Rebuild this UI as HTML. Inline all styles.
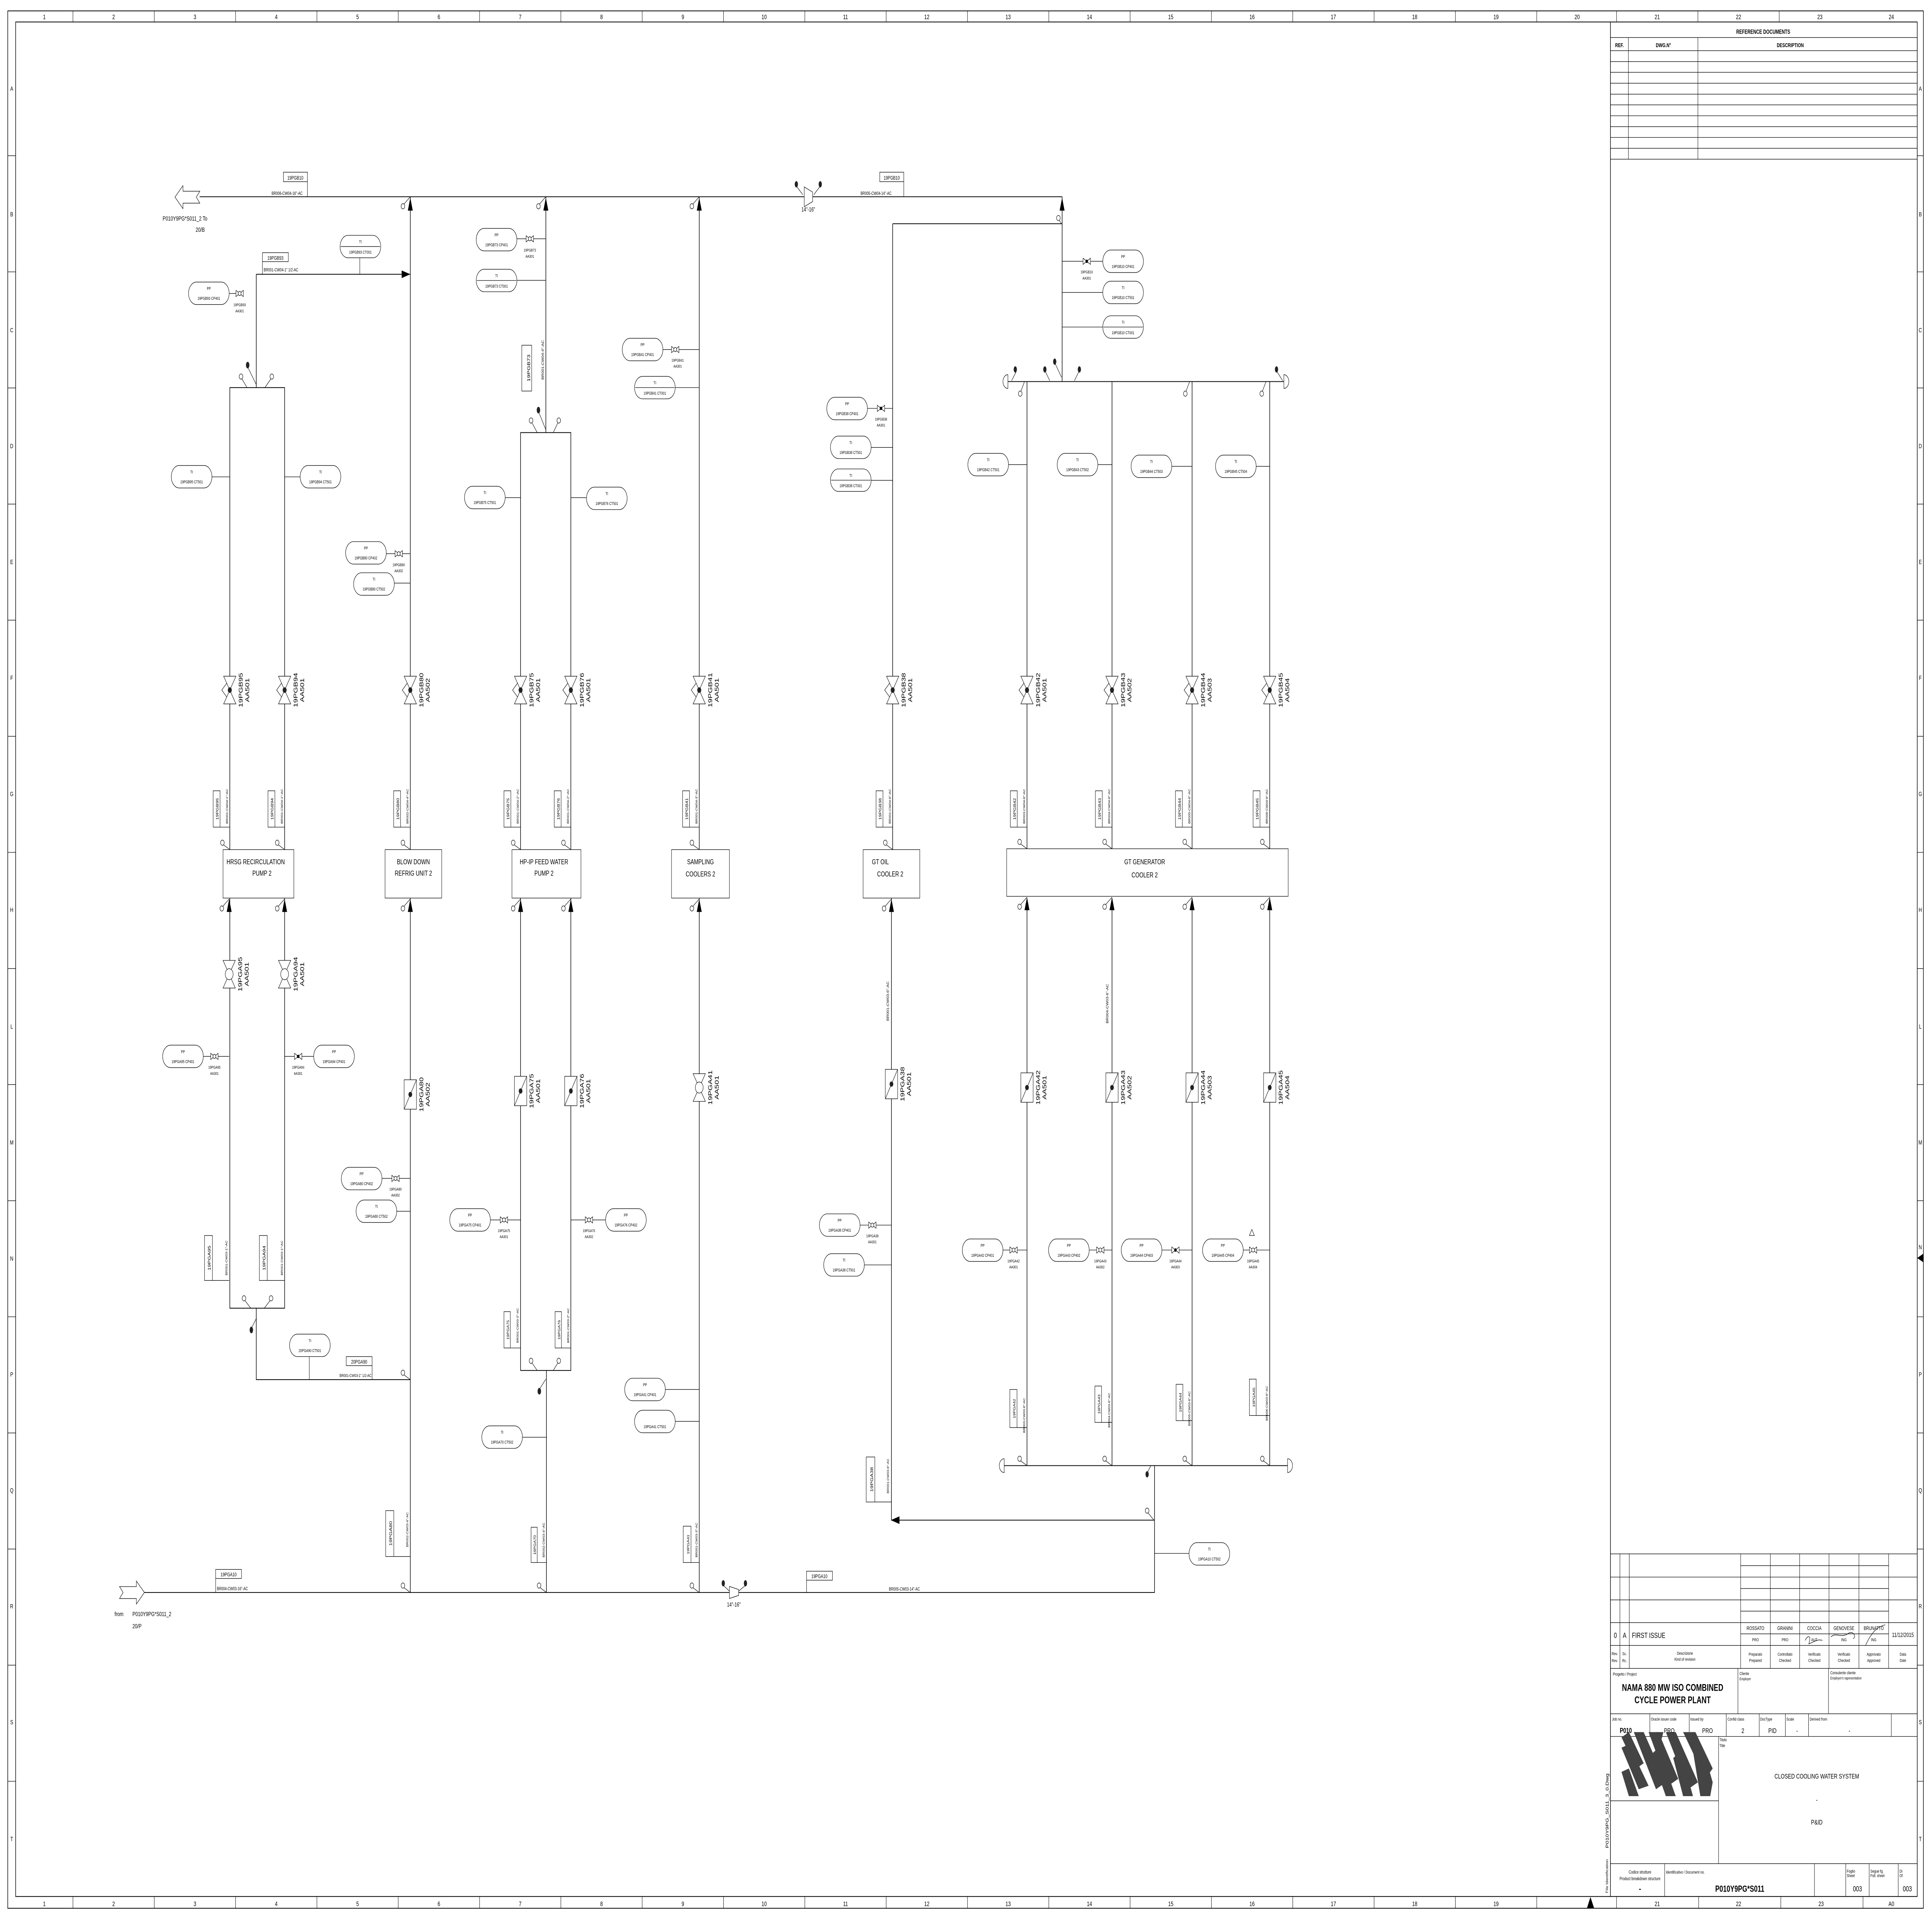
<!DOCTYPE html>
<html><head><meta charset="utf-8"><meta name="viewport" content="width=7021, height=4967"><style>
html,body{margin:0;padding:0;background:#fff;width:100%;height:100%;overflow:hidden}
svg{display:block;position:fixed;left:0;top:0;width:100vw;height:100vh;overflow:hidden}
text{font-family:"Liberation Sans",sans-serif;fill:#000}
.p{stroke:#000;stroke-width:.45;fill:none}
.t{stroke:#000;stroke-width:.3;fill:none}
.w{stroke:#000;stroke-width:.3;fill:#fff}
.m{text-anchor:middle}
</style></head><body>
<svg viewBox="0 0 1568 1109" preserveAspectRatio="none" xmlns="http://www.w3.org/2000/svg">
<defs>
<g id="gv"><path class="w" d="M-5,-8L5,-8L0,0ZM-5,8L5,8L0,0Z"/><path class="t" d="M-2.5,-4L-6.5,0L-2.5,4"/><circle r="1.6" fill="#222"/></g>
<g id="bv"><path class="w" d="M-5,-8L5,-8L0,0ZM-5,8L5,8L0,0Z"/><circle r="3.2" class="w"/></g>
<g id="cv"><rect x="-5" y="-8.5" width="10" height="17" class="w"/><path class="t" d="M-5,8.5L5,-8.5"/><circle r="1.5" fill="#222"/></g>
<g id="sv"><path class="w" d="M-3,-1.8L3,1.8L3,-1.8L-3,1.8Z"/><circle r="1.2" class="w"/></g>
<g id="svd"><path class="w" d="M-3,-1.8L3,1.8L3,-1.8L-3,1.8Z"/><circle r="1" fill="#000"/></g>
<rect id="ov" x="0" y="0" width="33" height="13" rx="6.5" class="w"/>
<g id="ovd"><rect x="0" y="0" width="33" height="13" rx="6.5" class="w"/><line x1="0.5" y1="6.5" x2="32.5" y2="6.5" class="t"/></g>
<path id="au" d="M0,0L2,7.5L-2,7.5Z" fill="#000"/>
<g id="tl"><circle cx="-6" cy="-4" r="1.5" class="w"/><line x1="-5.2" y1="-2.8" x2="0" y2="0" class="t"/></g>
<g id="tb"><circle cx="-6" cy="5.5" r="1.5" class="w"/><line x1="-5.2" y1="4.3" x2="0" y2="0" class="t"/></g>
</defs>

<rect x="6.3" y="6.3" width="1554.7" height="1096.5" class="p" stroke-width=".6"/>
<rect x="12.7" y="12.7" width="1543.3" height="1083.3" class="p" stroke-width=".6"/>
<g class="t">
<path d="M59.2,6.3V12.7M125.2,6.3V12.7M191.2,6.3V12.7M257.2,6.3V12.7M323.2,6.3V12.7M389.2,6.3V12.7M455.2,6.3V12.7M521.2,6.3V12.7M587.2,6.3V12.7M653.2,6.3V12.7M719.2,6.3V12.7M785.2,6.3V12.7M851.2,6.3V12.7M917.2,6.3V12.7M983.2,6.3V12.7M1049.2,6.3V12.7M1115.2,6.3V12.7M1181.2,6.3V12.7M1247.2,6.3V12.7M1312,6.3V12.7M1378,6.3V12.7M1444,6.3V12.7"/>
<path d="M59.2,1096V1102.8M125.2,1096V1102.8M191.2,1096V1102.8M257.2,1096V1102.8M323.2,1096V1102.8M389.2,1096V1102.8M455.2,1096V1102.8M521.2,1096V1102.8M587.2,1096V1102.8M653.2,1096V1102.8M719.2,1096V1102.8M785.2,1096V1102.8M851.2,1096V1102.8M917.2,1096V1102.8M983.2,1096V1102.8M1049.2,1096V1102.8M1115.2,1096V1102.8M1181.2,1096V1102.8M1247.2,1096V1102.8M1312,1096V1102.8M1378.6,1096V1102.8M1445.3,1096V1102.8M1512,1096V1102.8"/>
<path d="M6.3,90H12.7M6.3,157.1H12.7M6.3,224.2H12.7M6.3,291.3H12.7M6.3,358.4H12.7M6.3,425.5H12.7M6.3,492.6H12.7M6.3,559.7H12.7M6.3,626.8H12.7M6.3,693.9H12.7M6.3,761H12.7M6.3,828.1H12.7M6.3,895.2H12.7M6.3,962.3H12.7M6.3,1029.4H12.7"/>
<path d="M1556,90H1561M1556,157.1H1561M1556,224.2H1561M1556,291.3H1561M1556,358.4H1561M1556,425.5H1561M1556,492.6H1561M1556,559.7H1561M1556,626.8H1561M1556,693.9H1561M1556,761H1561M1556,828.1H1561M1556,895.2H1561M1556,962.3H1561M1556,1029.4H1561"/>
</g>
<g font-size="3.8" class="m">
<text x="36" y="11">1</text><text x="92.2" y="11">2</text><text x="158.2" y="11">3</text><text x="224.2" y="11">4</text><text x="290.2" y="11">5</text><text x="356.2" y="11">6</text><text x="422.2" y="11">7</text><text x="488.2" y="11">8</text><text x="554.2" y="11">9</text><text x="620.2" y="11">10</text><text x="686.2" y="11">11</text><text x="752.2" y="11">12</text><text x="818.2" y="11">13</text><text x="884.2" y="11">14</text><text x="950.2" y="11">15</text><text x="1016.2" y="11">16</text><text x="1082.2" y="11">17</text><text x="1148.2" y="11">18</text><text x="1214.2" y="11">19</text><text x="1280" y="11">20</text><text x="1345" y="11">21</text><text x="1411" y="11">22</text><text x="1477" y="11">23</text><text x="1535" y="11">24</text>
<text x="36" y="1101.5">1</text><text x="92.2" y="1101.5">2</text><text x="158.2" y="1101.5">3</text><text x="224.2" y="1101.5">4</text><text x="290.2" y="1101.5">5</text><text x="356.2" y="1101.5">6</text><text x="422.2" y="1101.5">7</text><text x="488.2" y="1101.5">8</text><text x="554.2" y="1101.5">9</text><text x="620.2" y="1101.5">10</text><text x="686.2" y="1101.5">11</text><text x="752.2" y="1101.5">12</text><text x="818.2" y="1101.5">13</text><text x="884.2" y="1101.5">14</text><text x="950.2" y="1101.5">15</text><text x="1016.2" y="1101.5">16</text><text x="1082.2" y="1101.5">17</text><text x="1148.2" y="1101.5">18</text><text x="1214.2" y="1101.5">19</text><text x="1345" y="1101.5">21</text><text x="1411" y="1101.5">22</text><text x="1478" y="1101.5">23</text><text x="1535" y="1101.5">A0</text>
</g>
<g font-size="3.6" class="m">
<text x="9.5" y="52.5">A</text><text x="9.5" y="125">B</text><text x="9.5" y="192">C</text><text x="9.5" y="259">D</text><text x="9.5" y="326">E</text><text x="9.5" y="393">F</text><text x="9.5" y="460">G</text><text x="9.5" y="527">H</text><text x="9.5" y="594.5">L</text><text x="9.5" y="661.5">M</text><text x="9.5" y="728.5">N</text><text x="9.5" y="795.5">P</text><text x="9.5" y="862.5">Q</text><text x="9.5" y="929.5">R</text><text x="9.5" y="996.5">S</text><text x="9.5" y="1064">T</text>
<text x="1558.5" y="52.5">A</text><text x="1558.5" y="125">B</text><text x="1558.5" y="192">C</text><text x="1558.5" y="259">D</text><text x="1558.5" y="326">E</text><text x="1558.5" y="393">F</text><text x="1558.5" y="460">G</text><text x="1558.5" y="527">H</text><text x="1558.5" y="594.5">L</text><text x="1558.5" y="661.5">M</text><text x="1558.5" y="722">N</text><text x="1558.5" y="795.5">P</text><text x="1558.5" y="862.5">Q</text><text x="1558.5" y="929.5">R</text><text x="1558.5" y="996.5">S</text><text x="1558.5" y="1064">T</text>
</g>
<path d="M1556,727L1561,724.5L1561,729.5Z" fill="#000"/>
<path d="M1290.8,1096.3L1288,1102.6L1293.7,1102.6Z" fill="#000"/>

<line x1="1307" y1="12.7" x2="1307" y2="1096" class="p"/>
<g class="t">
<path d="M1307,21.7H1556M1307,29.3H1556M1307,35.6H1556M1307,41.8H1556M1307,48.1H1556M1307,54.4H1556M1307,60.6H1556M1307,66.9H1556M1307,73.2H1556M1307,79.4H1556M1307,85.7H1556M1307,92H1556"/>
<path d="M1321.6,21.7V92M1378,21.7V92"/>
</g>
<text x="1431" y="19.5" font-size="3.4" font-weight="bold" class="m">REFERENCE DOCUMENTS</text>
<text x="1314.3" y="27.2" font-size="3.2" font-weight="bold" class="m">REF.</text>
<text x="1350" y="27.2" font-size="3.2" font-weight="bold" class="m">DWG.N°</text>
<text x="1453" y="27.2" font-size="3.2" font-weight="bold" class="m">DESCRIPTION</text>

<g class="t">
<path d="M1307,898H1556M1307,911.4H1556M1307,924.6H1556M1307,937.7H1556M1307,950.9H1556M1307,964.2H1556M1307,990.4H1556M1307,1003.5H1556M1307,1077H1556"/>
<path d="M1412.7,904.8H1532.8M1412.7,918H1532.8M1412.7,931.1H1532.8M1412.7,944.2H1532.8"/>
<path d="M1314.7,898V964.2M1322.3,898V964.2M1412.7,898V964.2M1436.8,898V964.2M1460.6,898V964.2M1484.4,898V964.2M1508.7,898V964.2M1532.8,898V964.2"/>
<path d="M1410.5,964.2V990.4M1484,964.2V990.4"/>
<path d="M1339,990.4V1003.5M1371,990.4V1003.5M1401,990.4V1003.5M1427.8,990.4V1003.5M1449,990.4V1003.5M1467.8,990.4V1003.5M1535,990.4V1003.5"/>
<path d="M1394.8,1003.5V1077M1307,1040.7H1394.8"/>
<path d="M1351,1077V1096M1472.6,1077V1096M1498,1077V1096M1517,1077V1096M1540.6,1077V1096"/>
</g>
<g fill="#444">
<polygon points="1316,1004 1322,1001 1334,1019 1328,1022"/>
<polygon points="1316,1010 1322,1008 1338,1032 1330,1034"/>
<polygon points="1316,1024 1322,1022 1330,1038 1322,1038"/>
<polygon points="1326,1001 1334,1001 1352,1030 1344,1034"/>
<polygon points="1338,1001 1346,1001 1362,1028 1354,1032"/>
<polygon points="1340,1014 1346,1010 1360,1038 1352,1038"/>
<polygon points="1352,1001 1360,1001 1378,1030 1370,1034"/>
<polygon points="1358,1016 1364,1012 1374,1038 1366,1038"/>
<polygon points="1366,1001 1376,1001 1390,1022 1384,1028"/>
<polygon points="1374,1012 1382,1010 1390,1030 1388,1038 1380,1038"/>
<polygon points="1344,1001 1350,1001 1346,1012"/>
</g>
<g font-size="4.4">
<text x="1311" y="946.6" class="m">0</text><text x="1318.5" y="946.6" class="m">A</text><text x="1324.5" y="946.6">FIRST ISSUE</text>
</g>
<g font-size="3" class="m">
<text x="1424.7" y="942">ROSSATO</text><text x="1448.7" y="942">GRANINI</text><text x="1472.5" y="942">COCCIA</text><text x="1496.5" y="942">GENOVESE</text><text x="1520.7" y="942">BRUNATTO</text>
<text x="1424.7" y="948.5" font-size="2.5">PRO</text><text x="1448.7" y="948.5" font-size="2.5">PRO</text><text x="1472.5" y="948.5" font-size="2.5">AUT</text><text x="1496.5" y="948.5" font-size="2.5">ING</text><text x="1520.7" y="948.5" font-size="2.5">ING</text>
<text x="1544.4" y="946" font-size="3.6">11/12/2015</text>
</g>
<path class="t" d="M1465,948C1468,944 1470,946 1468,950C1472,949 1475,947 1479,948M1486,946C1490,943 1494,947 1500,944C1504,942 1507,946 1504,947M1514,951C1519,943 1524,940 1530,939" stroke-width=".35"/>
<g font-size="2.5" class="m">
<text x="1310.5" y="956.5">Rev.</text><text x="1310.5" y="960.5">Rev.</text><text x="1318.5" y="956.5">Sc.</text><text x="1318.5" y="960.5">Rc.</text>
<text x="1367.5" y="956.3">Descrizione</text><text x="1367.5" y="959.8">Kind of revision</text>
<text x="1424.7" y="956.8">Preparato</text><text x="1424.7" y="960.4">Prepared</text>
<text x="1448.7" y="956.8">Controllato</text><text x="1448.7" y="960.4">Checked</text>
<text x="1472.5" y="956.8">Verificato</text><text x="1472.5" y="960.4">Checked</text>
<text x="1496.5" y="956.8">Verificato</text><text x="1496.5" y="960.4">Checked</text>
<text x="1520.7" y="956.8">Approvato</text><text x="1520.7" y="960.4">Approved</text>
<text x="1544.4" y="956.8">Data</text><text x="1544.4" y="960.4">Date</text>
</g>
<g font-size="2.5">
<text x="1309" y="968.3">Progetto / Project</text>
<text x="1411.8" y="968">Cliente</text><text x="1411.8" y="971" font-size="2.2">Employer</text>
<text x="1485.5" y="967.6">Consulente cliente</text><text x="1485.5" y="970.6" font-size="2.2">Employer's rapresentative</text>
<text x="1308.3" y="994.3">Job no.</text><text x="1339.8" y="994.3">Oracle issuer code</text><text x="1371.8" y="994.3">Issued by</text><text x="1402" y="994.3">Confid class</text><text x="1428.5" y="994.3">DocType</text><text x="1449.8" y="994.3">Scale</text><text x="1468.7" y="994.3">Derived from</text>
<text x="1395.5" y="1006.3">Titolo</text><text x="1395.5" y="1009.6">Title</text>
<text x="1352" y="1082.8">Identificativo / Document no.</text>
<text x="1498.8" y="1082.2">Foglio</text><text x="1498.8" y="1084.8">Sheet</text>
<text x="1518" y="1082.2">Segue fg.</text><text x="1518" y="1084.8">Foll. sheet</text>
<text x="1541.6" y="1082.2">Di</text><text x="1541.6" y="1084.8">Of</text>
</g>
<g class="m">
<text x="1357.5" y="977.2" font-size="5.6" font-weight="bold">NAMA 880 MW ISO COMBINED</text>
<text x="1357.5" y="984.3" font-size="5.6" font-weight="bold">CYCLE POWER PLANT</text>
<text x="1319.5" y="1001.5" font-size="4.2" font-weight="bold">P010</text>
<text x="1354.8" y="1001.5" font-size="4">PRO</text><text x="1385.8" y="1001.5" font-size="4">PRO</text><text x="1414.5" y="1001.5" font-size="4">2</text><text x="1438.5" y="1001.5" font-size="4">PID</text><text x="1458.5" y="1001.5" font-size="4">-</text><text x="1501" y="1001.5" font-size="4">-</text>
<text x="1474.5" y="1027.8" font-size="4">CLOSED COOLING WATER SYSTEM</text>
<text x="1474.5" y="1041.5" font-size="4">-</text>
<text x="1474.5" y="1054.4" font-size="4">P&amp;ID</text>
<text x="1331" y="1082.8" font-size="2.6">Codice strutture</text><text x="1331" y="1086.6" font-size="2.6">Product breakdown structure</text>
<text x="1331" y="1093.2" font-size="5" font-weight="bold">-</text>
<text x="1412" y="1093.3" font-size="5.2" font-weight="bold">P010Y9PG*S011</text>
<text x="1507.5" y="1093" font-size="4.4">003</text><text x="1548" y="1093" font-size="4.4">003</text>
</g>
<text transform="rotate(-90 1305 1094)" x="1305" y="1094" font-size="2.6">File Identification</text>
<text transform="rotate(-90 1305.5 1068)" x="1305.5" y="1068" font-size="3.5">P010Y9PG_S011_3_0.Dwg</text>

<path class="p" d="M162,113.7H862"/>
<polygon class="w" points="142,113.9 148.5,107.3 148.5,110.5 162.2,110.5 159.3,113.9 162.2,117.4 148.5,117.4 148.5,120.6"/>
<text x="132" y="127.5" font-size="3.6">P010Y9PG*S011_2 To</text>
<text x="162.5" y="134" font-size="3.6" class="m">20/B</text>
<rect x="230" y="99.5" width="19.5" height="5.5" class="w"/><path class="t" d="M249.5,105V113.7"/>
<text x="239.7" y="103.8" font-size="3" class="m">19PGB10</text>
<text x="233" y="112.6" font-size="2.6" class="m">BR006-CW04-16"-AC</text>
<rect x="714" y="99.5" width="19.5" height="5.5" class="w"/><path class="t" d="M733.5,105V113.7"/>
<text x="723.7" y="103.8" font-size="3" class="m">19PGB10</text>
<text x="711" y="112.6" font-size="2.6" class="m">BR005-CW04-14"-AC</text>
<polygon class="w" points="652.7,108 659.5,111 659.5,116.5 652.7,119.5"/>
<ellipse cx="646.3" cy="106.5" rx="1.3" ry="1.8" fill="#222"/><ellipse cx="665.7" cy="106.5" rx="1.3" ry="1.8" fill="#222"/>
<path class="t" d="M646.8,108L651.5,112.5M665.2,108L660.5,112.5"/>
<text x="656" y="122.3" font-size="3.4" class="m">14"-16"</text>

<path class="p" d="M117,920.3H937V847"/>
<polygon class="w" points="117.2,920.3 110.7,913.7 110.7,916.9 97,916.9 99.9,920.3 97,923.8 110.7,923.8 110.7,927"/>
<text x="93" y="934" font-size="3.6">from</text><text x="107.5" y="934" font-size="3.6">P010Y9PG*S011_2</text>
<text x="107.5" y="941" font-size="3.6">20/P</text>
<rect x="175" y="907" width="21" height="5.2" class="w"/><path class="t" d="M175,912.2V920.3"/>
<text x="185.5" y="911" font-size="3" class="m">19PGA10</text>
<text x="176" y="919" font-size="2.6">BR004-CW03-16"-AC</text>
<rect x="654.6" y="908" width="21" height="5.2" class="w"/><path class="t" d="M654.6,913.2V920.3"/>
<text x="665" y="912" font-size="3" class="m">19PGA10</text>
<text x="734" y="919.2" font-size="2.6" class="m">BR005-CW03-14"-AC</text>
<polygon class="w" points="592,916.8 599.5,918.6 599.5,922 592,923.8"/>
<ellipse cx="587" cy="915" rx="1.3" ry="1.8" fill="#222"/><ellipse cx="605" cy="915" rx="1.3" ry="1.8" fill="#222"/>
<path class="t" d="M587.5,916.5L592,919.5M604.5,916.5L599.5,919.5"/>
<text x="595.6" y="928.5" font-size="3.4" class="m">14"-16"</text>

<rect x="186.5" y="224" width="44.5" height="532" class="p"/>
<path class="p" d="M208,158.5V224M208,756V797.3H333"/>
<path class="p" d="M208,158.5H333"/><path d="M333,158.5L326,156.3L326,160.7Z" fill="#000"/>
<rect x="213" y="146" width="21" height="5.2" class="w"/><path class="t" d="M213,151.2V158.5"/>
<text x="223.5" y="150.2" font-size="3" class="m">19PGB93</text>
<text x="214" y="156.8" font-size="2.6">BR001-CW04-1" 1/2-AC</text>
<ellipse cx="201" cy="211" rx="1.4" ry="1.9" fill="#222"/><path class="t" d="M201.5,212.8L207.8,222"/>
<circle cx="195.6" cy="217.6" r="1.5" class="w"/><path class="t" d="M196.4,219L200.5,224"/>
<circle cx="220.6" cy="217.6" r="1.5" class="w"/><path class="t" d="M219.8,219L215,224"/>
<circle cx="198" cy="750.3" r="1.5" class="w"/><path class="t" d="M198.8,751.6L203.5,756"/>
<circle cx="220" cy="750.3" r="1.5" class="w"/><path class="t" d="M219.2,751.6L214.5,756"/>
<ellipse cx="204" cy="768.6" rx="1.4" ry="1.9" fill="#222"/><path class="t" d="M204.6,766.8L208,762"/>
<rect x="181" y="491" width="57.5" height="28" class="w"/>
<text x="207.5" y="499.5" font-size="4.2" class="m">HRSG RECIRCULATION</text>
<text x="212.6" y="506" font-size="4.2" class="m">PUMP 2</text>

<path class="p" d="M333,113.7V491M333,519V920.3"/>
<rect x="312.5" y="491" width="46" height="28" class="w"/>
<text x="335.5" y="499.5" font-size="4.2" class="m">BLOW DOWN</text>
<text x="335.5" y="506" font-size="4.2" class="m">REFRIG UNIT 2</text>

<path class="p" d="M443,113.7V250M443.5,792V920.3"/>
<rect x="422.5" y="250" width="40.8" height="542" class="p"/>
<rect x="415.5" y="491" width="56" height="28" class="w"/>
<text x="441.5" y="499.5" font-size="4.2" class="m">HP-IP FEED WATER</text>
<text x="441.5" y="506" font-size="4.2" class="m">PUMP 2</text>
<ellipse cx="437" cy="237" rx="1.4" ry="1.9" fill="#222"/><path class="t" d="M437.6,238.8L442.8,248"/>
<circle cx="431" cy="243" r="1.5" class="w"/><path class="t" d="M431.8,244.4L436,250"/>
<circle cx="453.5" cy="243" r="1.5" class="w"/><path class="t" d="M452.7,244.4L449,250"/>
<circle cx="431" cy="786.4" r="1.5" class="w"/><path class="t" d="M431.8,787.7L436,792"/>
<circle cx="453.5" cy="786.4" r="1.5" class="w"/><path class="t" d="M452.7,787.7L449,792"/>
<ellipse cx="437.7" cy="804" rx="1.4" ry="1.9" fill="#222"/><path class="t" d="M438.3,802.3L443,797"/>
<rect x="423.5" y="199.5" width="8" height="26.5" class="w"/>
<text transform="rotate(-90 430.3 212.7)" x="430.3" y="212.7" font-size="3.6" class="m">19PGB73</text>
<text transform="rotate(-90 441.4 208)" x="441.4" y="208" font-size="2.5" class="m">BR001-CW04-4"-AC</text>

<path class="p" d="M567.5,113.7V491M567.5,519V920.3"/>
<rect x="545" y="491" width="47" height="28" class="w"/>
<text x="568.5" y="499.5" font-size="4.2" class="m">SAMPLING</text>
<text x="568.5" y="506.5" font-size="4.2" class="m">COOLERS 2</text>

<path class="p" d="M724.5,129.3H862M724.5,129.3V491M723.5,519V878.5H937"/>
<path d="M723,878.5L730,876.3L730,880.7Z" fill="#000"/>
<rect x="700.5" y="491" width="46" height="28" class="w"/>
<text x="714.5" y="499.5" font-size="4.2" class="m">GT OIL</text>
<text x="722.5" y="506.5" font-size="4.2" class="m">COOLER 2</text>
<text transform="rotate(-90 721.5 578.5)" x="721.5" y="578.5" font-size="2.5" class="m">BR001-CW03-6"-AC</text>

<path class="p" d="M862,113.7V220.5M818,220.5H1042M833.5,220.5V491M902.5,220.5V491M967.5,220.5V491M1030.5,220.5V491"/>
<path class="p" d="M833.5,519V847M902.5,519V847M967.5,519V847M1030.5,519V847M815,847H1045"/>
<path class="t" d="M818,216.5A4,4 0 0 0 818,224.5ZM1042,216.5A4,4 0 0 1 1042,224.5ZM815,843A4,4 0 0 0 815,851ZM1045,843A4,4 0 0 1 1045,851Z"/>
<rect x="817" y="490.5" width="228.5" height="27.5" class="w"/>
<text x="929" y="499.5" font-size="4.2" class="m">GT GENERATOR</text>
<text x="929" y="507" font-size="4.2" class="m">COOLER 2</text>
<ellipse cx="824" cy="213.5" rx="1.3" ry="1.8" fill="#222"/><path class="t" d="M824.6,215L821,220"/>
<ellipse cx="848" cy="213.5" rx="1.3" ry="1.8" fill="#222"/><path class="t" d="M848.6,215L852,220"/>
<ellipse cx="856" cy="209" rx="1.3" ry="1.8" fill="#222"/><path class="t" d="M856.6,210.5L861.5,218"/>
<ellipse cx="876" cy="213.5" rx="1.3" ry="1.8" fill="#222"/><path class="t" d="M875.4,215L872,220"/>
<ellipse cx="1036" cy="213.5" rx="1.3" ry="1.8" fill="#222"/><path class="t" d="M1036.6,215L1041,220"/>
<circle cx="828" cy="227.5" r="1.5" class="w"/><path class="t" d="M828.6,226L831.5,220.5"/>
<circle cx="962" cy="227.5" r="1.5" class="w"/><path class="t" d="M962.6,226L965.5,220.5"/>
<circle cx="1024" cy="227.5" r="1.5" class="w"/><path class="t" d="M1024.6,226L1027.5,220.5"/>
<ellipse cx="931" cy="852" rx="1.3" ry="1.8" fill="#222"/><path class="t" d="M931.5,850.5L934,847"/>
<circle cx="931" cy="873" r="1.5" class="w"/><path class="t" d="M931.8,874.3L936.5,878.5"/>
<text transform="rotate(-90 899.5 580)" x="899.5" y="580" font-size="2.5" class="m">BR004-CW03-6"-AC</text>
<path d="M1016,710.5L1014,714L1018,714Z" class="t"/>

<use href="#au" x="333" y="114.2"/><use href="#au" x="443" y="114.2"/><use href="#au" x="567.5" y="114.2"/><use href="#au" x="862" y="114.2"/>
<use href="#tb" x="333" y="113.7"/><use href="#tb" x="443" y="113.7"/><use href="#tb" x="567.5" y="113.7"/>
<circle cx="859" cy="126" r="1.5" class="w"/><path class="t" d="M859.7,127.3L861.5,129.3"/>
<use href="#tl" x="333" y="920.3"/><use href="#tl" x="443.5" y="920.3"/><use href="#tl" x="567.5" y="920.3"/><use href="#tl" x="333" y="797.3"/>
<use href="#tl" x="833.5" y="847"/><use href="#tl" x="902.5" y="847"/><use href="#tl" x="967.5" y="847"/><use href="#tl" x="1030.5" y="847"/>

<use href="#tl" x="186.5" y="491"/><use href="#tl" x="231" y="491"/><use href="#tl" x="333" y="491"/><use href="#tl" x="422.5" y="491"/><use href="#tl" x="463.3" y="491"/><use href="#tl" x="567.5" y="491"/><use href="#tl" x="724.5" y="491"/><use href="#tl" x="833.5" y="490.5"/><use href="#tl" x="902.5" y="490.5"/><use href="#tl" x="967.5" y="490.5"/><use href="#tl" x="1030.5" y="490.5"/>
<g>
<use href="#au" x="186" y="519.5"/><use href="#tb" x="186" y="519.5"/>
<use href="#au" x="231" y="519.5"/><use href="#tb" x="231" y="519.5"/>
<use href="#au" x="333" y="519.5"/><use href="#tb" x="333" y="519.5"/>
<use href="#au" x="422.5" y="519.5"/><use href="#tb" x="422.5" y="519.5"/>
<use href="#au" x="463.3" y="519.5"/><use href="#tb" x="463.3" y="519.5"/>
<use href="#au" x="567.5" y="519.5"/><use href="#tb" x="567.5" y="519.5"/>
<use href="#au" x="723.5" y="519.5"/><use href="#tb" x="723.5" y="519.5"/>
<use href="#au" x="833.5" y="518.5"/><use href="#tb" x="833.5" y="518.5"/>
<use href="#au" x="902.5" y="518.5"/><use href="#tb" x="902.5" y="518.5"/>
<use href="#au" x="967.5" y="518.5"/><use href="#tb" x="967.5" y="518.5"/>
<use href="#au" x="1030.5" y="518.5"/><use href="#tb" x="1030.5" y="518.5"/>
</g>

<use href="#gv" x="186.5" y="398.8"/><use href="#gv" x="231" y="398.8"/><use href="#gv" x="333" y="398.8"/><use href="#gv" x="422.5" y="398.8"/><use href="#gv" x="463.3" y="398.8"/><use href="#gv" x="567.5" y="398.8"/><use href="#gv" x="724.5" y="398.8"/><use href="#gv" x="833.5" y="398.8"/><use href="#gv" x="902.5" y="398.8"/><use href="#gv" x="967.5" y="398.8"/><use href="#gv" x="1030.5" y="398.8"/>
<g font-size="4.6" class="m">
<text transform="rotate(-90 197 398.8)" x="197" y="398.8">19PGB95</text><text transform="rotate(-90 202.3 398.8)" x="202.3" y="398.8">AA501</text>
<text transform="rotate(-90 241.5 398.8)" x="241.5" y="398.8">19PGB94</text><text transform="rotate(-90 246.8 398.8)" x="246.8" y="398.8">AA501</text>
<text transform="rotate(-90 343.5 398.8)" x="343.5" y="398.8">19PGB80</text><text transform="rotate(-90 348.8 398.8)" x="348.8" y="398.8">AA502</text>
<text transform="rotate(-90 433 398.8)" x="433" y="398.8">19PGB75</text><text transform="rotate(-90 438.3 398.8)" x="438.3" y="398.8">AA501</text>
<text transform="rotate(-90 473.8 398.8)" x="473.8" y="398.8">19PGB76</text><text transform="rotate(-90 479.1 398.8)" x="479.1" y="398.8">AA501</text>
<text transform="rotate(-90 578 398.8)" x="578" y="398.8">19PGB41</text><text transform="rotate(-90 583.3 398.8)" x="583.3" y="398.8">AA501</text>
<text transform="rotate(-90 735 398.8)" x="735" y="398.8">19PGB38</text><text transform="rotate(-90 740.3 398.8)" x="740.3" y="398.8">AA501</text>
<text transform="rotate(-90 844 398.8)" x="844" y="398.8">19PGB42</text><text transform="rotate(-90 849.3 398.8)" x="849.3" y="398.8">AA501</text>
<text transform="rotate(-90 913 398.8)" x="913" y="398.8">19PGB43</text><text transform="rotate(-90 918.3 398.8)" x="918.3" y="398.8">AA502</text>
<text transform="rotate(-90 978 398.8)" x="978" y="398.8">19PGB44</text><text transform="rotate(-90 983.3 398.8)" x="983.3" y="398.8">AA503</text>
<text transform="rotate(-90 1041 398.8)" x="1041" y="398.8">19PGB45</text><text transform="rotate(-90 1046.3 398.8)" x="1046.3" y="398.8">AA504</text>
</g>

<use href="#bv" x="186" y="563"/><use href="#bv" x="231" y="563"/>
<use href="#cv" x="333" y="632.5"/><use href="#cv" x="422.5" y="630.5"/><use href="#cv" x="463.3" y="630.5"/>
<use href="#bv" x="567.5" y="628.5"/>
<use href="#cv" x="723.5" y="626.5"/><use href="#cv" x="833.5" y="628.5"/><use href="#cv" x="902.5" y="628.5"/><use href="#cv" x="967.5" y="628.5"/><use href="#cv" x="1030.5" y="628.5"/>
<g font-size="4.6" class="m">
<text transform="rotate(-90 196.5 563)" x="196.5" y="563">19PGA95</text><text transform="rotate(-90 201.8 563)" x="201.8" y="563">AA501</text>
<text transform="rotate(-90 241.5 563)" x="241.5" y="563">19PGA94</text><text transform="rotate(-90 246.8 563)" x="246.8" y="563">AA501</text>
<text transform="rotate(-90 343.5 632.5)" x="343.5" y="632.5">19PGA80</text><text transform="rotate(-90 348.8 632.5)" x="348.8" y="632.5">AA502</text>
<text transform="rotate(-90 433 630.5)" x="433" y="630.5">19PGA75</text><text transform="rotate(-90 438.3 630.5)" x="438.3" y="630.5">AA501</text>
<text transform="rotate(-90 473.8 630.5)" x="473.8" y="630.5">19PGA76</text><text transform="rotate(-90 479.1 630.5)" x="479.1" y="630.5">AA501</text>
<text transform="rotate(-90 578 628.5)" x="578" y="628.5">19PGA41</text><text transform="rotate(-90 583.3 628.5)" x="583.3" y="628.5">AA501</text>
<text transform="rotate(-90 734 626.5)" x="734" y="626.5">19PGA38</text><text transform="rotate(-90 739.3 626.5)" x="739.3" y="626.5">AA501</text>
<text transform="rotate(-90 844 628.5)" x="844" y="628.5">19PGA42</text><text transform="rotate(-90 849.3 628.5)" x="849.3" y="628.5">AA501</text>
<text transform="rotate(-90 913 628.5)" x="913" y="628.5">19PGA43</text><text transform="rotate(-90 918.3 628.5)" x="918.3" y="628.5">AA502</text>
<text transform="rotate(-90 978 628.5)" x="978" y="628.5">19PGA44</text><text transform="rotate(-90 983.3 628.5)" x="983.3" y="628.5">AA503</text>
<text transform="rotate(-90 1041 628.5)" x="1041" y="628.5">19PGA45</text><text transform="rotate(-90 1046.3 628.5)" x="1046.3" y="628.5">AA504</text>
</g>

<g>
<rect x="173" y="457" width="5.6" height="21" class="w"/><path class="t" d="M178.6,478H186.5"/>
<rect x="217.5" y="457" width="5.6" height="21" class="w"/><path class="t" d="M223.1,478H231"/>
<rect x="319.5" y="457" width="5.6" height="21" class="w"/><path class="t" d="M325.1,478H333"/>
<rect x="409" y="457" width="5.6" height="21" class="w"/><path class="t" d="M414.6,478H422.5"/>
<rect x="449.8" y="457" width="5.6" height="21" class="w"/><path class="t" d="M455.4,478H463.3"/>
<rect x="554" y="457" width="5.6" height="21" class="w"/><path class="t" d="M559.6,478H567.5"/>
<rect x="711" y="457" width="5.6" height="21" class="w"/><path class="t" d="M716.6,478H724.5"/>
<rect x="820" y="457" width="5.6" height="21" class="w"/><path class="t" d="M825.6,478H833.5"/>
<rect x="889" y="457" width="5.6" height="21" class="w"/><path class="t" d="M894.6,478H902.5"/>
<rect x="954" y="457" width="5.6" height="21" class="w"/><path class="t" d="M959.6,478H967.5"/>
<rect x="1017" y="457" width="5.6" height="21" class="w"/><path class="t" d="M1022.6,478H1030.5"/>
</g>
<g font-size="2.9" class="m">
<text transform="rotate(-90 177.4 467.5)" x="177.4" y="467.5">19PGB95</text>
<text transform="rotate(-90 221.9 467.5)" x="221.9" y="467.5">19PGB94</text>
<text transform="rotate(-90 323.9 467.5)" x="323.9" y="467.5">19PGB80</text>
<text transform="rotate(-90 413.4 467.5)" x="413.4" y="467.5">19PGB75</text>
<text transform="rotate(-90 454.2 467.5)" x="454.2" y="467.5">19PGB76</text>
<text transform="rotate(-90 558.4 467.5)" x="558.4" y="467.5">19PGB41</text>
<text transform="rotate(-90 715.4 467.5)" x="715.4" y="467.5">19PGB38</text>
<text transform="rotate(-90 824.4 467.5)" x="824.4" y="467.5">19PGB42</text>
<text transform="rotate(-90 893.4 467.5)" x="893.4" y="467.5">19PGB43</text>
<text transform="rotate(-90 958.4 467.5)" x="958.4" y="467.5">19PGB44</text>
<text transform="rotate(-90 1021.4 467.5)" x="1021.4" y="467.5">19PGB45</text>
</g>
<g font-size="2.2">
<text transform="rotate(-90 185 476)" x="185" y="476">BR001-CW04-1"-AC</text>
<text transform="rotate(-90 229.5 476)" x="229.5" y="476">BR001-CW04-1"-AC</text>
<text transform="rotate(-90 331.5 476)" x="331.5" y="476">BR002-CW04-4"-AC</text>
<text transform="rotate(-90 421 476)" x="421" y="476">BR001-CW04-2"-AC</text>
<text transform="rotate(-90 461.8 476)" x="461.8" y="476">BR001-CW04-2"-AC</text>
<text transform="rotate(-90 566 476)" x="566" y="476">BR001-CW04-3"-AC</text>
<text transform="rotate(-90 723 476)" x="723" y="476">BR001-CW04-6"-AC</text>
<text transform="rotate(-90 832 476)" x="832" y="476">BR003-CW04-6"-AC</text>
<text transform="rotate(-90 901 476)" x="901" y="476">BR004-CW04-6"-AC</text>
<text transform="rotate(-90 966 476)" x="966" y="476">BR005-CW04-6"-AC</text>
<text transform="rotate(-90 1029 476)" x="1029" y="476">BR006-CW04-6"-AC</text>
</g>

<g>
<rect x="166" y="714" width="6.4" height="26" class="w"/><path class="t" d="M172.4,740H186"/>
<rect x="210.5" y="714" width="6.4" height="26" class="w"/><path class="t" d="M216.9,740H231"/>
<rect x="409" y="758" width="5.2" height="21" class="w"/><path class="t" d="M414.2,779H422.5"/>
<rect x="450.5" y="758" width="5.2" height="21" class="w"/><path class="t" d="M455.7,779H463.3"/>
<rect x="313" y="873" width="6.6" height="26.5" class="w"/><path class="t" d="M319.6,899.5H333"/>
<rect x="431" y="882.6" width="5" height="20.4" class="w"/><path class="t" d="M436,903H443.5"/>
<rect x="554.5" y="882" width="6.3" height="21" class="w"/><path class="t" d="M560.8,903H567.5"/>
<rect x="703" y="842" width="7" height="26" class="w"/><path class="t" d="M710,868H723.5"/>
<rect x="819.6" y="803" width="5.8" height="22" class="w"/><path class="t" d="M825.4,825H833.5"/>
<rect x="888.6" y="801" width="5.4" height="21" class="w"/><path class="t" d="M894,822H902.5"/>
<rect x="954.5" y="800" width="5.5" height="21" class="w"/><path class="t" d="M960,821H967.5"/>
<rect x="1014" y="797" width="5.5" height="21" class="w"/><path class="t" d="M1019.5,818H1030.5"/>
</g>
<g font-size="3.3" class="m">
<text transform="rotate(-90 170.9 727)" x="170.9" y="727">19PGA95</text>
<text transform="rotate(-90 215.4 727)" x="215.4" y="727">19PGA94</text>
<text transform="rotate(-90 413.2 768.5)" x="413.2" y="768.5" font-size="2.6">19PGA75</text>
<text transform="rotate(-90 454.7 768.5)" x="454.7" y="768.5" font-size="2.6">19PGA76</text>
<text transform="rotate(-90 318.2 886.2)" x="318.2" y="886.2">19PGA80</text>
<text transform="rotate(-90 435 892.8)" x="435" y="892.8" font-size="2.6">19PGA70</text>
<text transform="rotate(-90 559.5 892.5)" x="559.5" y="892.5" font-size="2.6">19PGA41</text>
<text transform="rotate(-90 708.6 855)" x="708.6" y="855">19PGA38</text>
<text transform="rotate(-90 824.2 814)" x="824.2" y="814" font-size="2.6">19PGA42</text>
<text transform="rotate(-90 892.9 811.5)" x="892.9" y="811.5" font-size="2.6">19PGA43</text>
<text transform="rotate(-90 959 810.5)" x="959" y="810.5" font-size="2.6">19PGA44</text>
<text transform="rotate(-90 1018.5 807.5)" x="1018.5" y="807.5" font-size="2.6">19PGA45</text>
</g>
<g font-size="2.2">
<text transform="rotate(-90 184.5 737)" x="184.5" y="737">BR001-CW03-1"-AC</text>
<text transform="rotate(-90 229.5 737)" x="229.5" y="737">BR001-CW03-1"-AC</text>
<text transform="rotate(-90 420.8 776)" x="420.8" y="776">BR001-CW03-2"-AC</text>
<text transform="rotate(-90 462 776)" x="462" y="776">BR001-CW03-2"-AC</text>
<text transform="rotate(-90 331.3 894)" x="331.3" y="894">BR002-CW03-4"-AC</text>
<text transform="rotate(-90 442 900)" x="442" y="900">BR002-CW03-4"-AC</text>
<text transform="rotate(-90 566 900)" x="566" y="900">BR001-CW03-3"-AC</text>
<text transform="rotate(-90 721.5 863)" x="721.5" y="863">BR001-CW03-6"-AC</text>
<text transform="rotate(-90 832 828)" x="832" y="828">BR003-CW03-6"-AC</text>
<text transform="rotate(-90 901 825)" x="901" y="825">BR004-CW03-6"-AC</text>
<text transform="rotate(-90 966 824)" x="966" y="824">BR005-CW03-6"-AC</text>
<text transform="rotate(-90 1029 821)" x="1029" y="821">BR006-CW03-6"-AC</text>
</g>
<path class="t" d="M251,784V797.3"/>
<rect x="281" y="784" width="21" height="5.2" class="w"/><path class="t" d="M302,789.2V797.3"/>
<text x="291.5" y="788" font-size="3" class="m">20PGA90</text>
<text x="301.5" y="795.8" font-size="2.4" text-anchor="end">BR001-CW03-1" 1/2-AC</text>

<path class="t" d="M186.5,169.6H197.5M191.5,169.6H186M292,149V158.5M172,275.6H186.5M231,275.6H243.6M313.5,320H320.6M326.6,320H333M319.6,337H333M419.5,138H427M433,138H443M419.5,162H443M410,287.6H422.5M463.3,287.6H476M538,202H545M551,202H567.5M548,224H567.5M704,236H712M718,236H724.5M707,258.6H724.5M707,277.6H724.5M862,151H879M885,151H895M862,169H895M862,189H895M818.5,268.5H833.5M891,268.5H902.5M951,269.5H967.5M1019.5,269.5H1030.5"/>
<path class="t" d="M165,610.5H171M177,610.5H186M231,610.5H239M245,610.5H254.6M310,681H318M324,681H333M322,700H333M398,705H406M412,705H422.5M463.3,705H475M481,705H491.5M424,830.6H443.5M540,803H567.5M548,821.4H567.5M698,708H705M711,708H723.5M701.5,731H723.5M814,722.4H819.6M825.6,722.4H833.5M884,722.4H890M896,722.4H902.5M943,722.4H951M957,722.4H967.5M1009,722.4H1014M1020,722.4H1030.5M937,897.7H965"/>
<use href="#sv" x="194.5" y="169.6"/><use href="#sv" x="323.6" y="320"/><use href="#sv" x="430" y="138"/><use href="#sv" x="548" y="202"/><use href="#svd" x="715" y="236"/><use href="#svd" x="882" y="151"/>
<use href="#sv" x="174" y="610.5"/><use href="#svd" x="242" y="610.5"/><use href="#sv" x="321" y="681"/><use href="#sv" x="409" y="705"/><use href="#sv" x="478" y="705"/><use href="#sv" x="708" y="708"/><use href="#sv" x="822.6" y="722.4"/><use href="#sv" x="893" y="722.4"/><use href="#svd" x="954" y="722.4"/><use href="#sv" x="1017" y="722.4"/>
<g font-size="2.3" class="m">
<text x="194.5" y="177">19PGB93</text><text x="194.5" y="180.5">AA301</text>
<text x="323.6" y="327.2">19PGB80</text><text x="323.6" y="330.7">AA302</text>
<text x="430" y="145.4">19PGB73</text><text x="430" y="148.9">AA301</text>
<text x="550" y="209">19PGB41</text><text x="550" y="212.5">AA301</text>
<text x="715" y="243">19PGB38</text><text x="715" y="246.5">AA301</text>
<text x="882" y="158">19PGB10</text><text x="882" y="161.5">AA301</text>
<text x="174" y="617.6">19PGA95</text><text x="174" y="621.1">AA301</text>
<text x="242" y="617.6">19PGA94</text><text x="242" y="621.1">AA301</text>
<text x="321" y="688">19PGA80</text><text x="321" y="691.5">AA302</text>
<text x="409" y="712">19PGA75</text><text x="409" y="715.5">AA301</text>
<text x="478" y="712">19PGA76</text><text x="478" y="715.5">AA302</text>
<text x="708" y="715">19PGA38</text><text x="708" y="718.5">AA301</text>
<text x="822.6" y="729.5">19PGA42</text><text x="822.6" y="733">AA301</text>
<text x="893" y="729.5">19PGA43</text><text x="893" y="733">AA302</text>
<text x="954" y="729.5">19PGA44</text><text x="954" y="733">AA303</text>
<text x="1017" y="729.5">19PGA45</text><text x="1017" y="733">AA304</text>
</g>

<g font-size="2.4" class="m">
<g transform="translate(153,163)"><use href="#ov"/><text x="16.5" y="4.6">PP</text><text x="16.5" y="10.3">19PGB93 CP401</text></g>
<g transform="translate(276,136)"><use href="#ovd"/><text x="16.5" y="4.6">TI</text><text x="16.5" y="10.6">19PGB93 CT001</text></g>
<g transform="translate(139,269)"><use href="#ov"/><text x="16.5" y="4.6">TI</text><text x="16.5" y="10.3">19PGB95 CT501</text></g>
<g transform="translate(243.6,269)"><use href="#ov"/><text x="16.5" y="4.6">TI</text><text x="16.5" y="10.3">19PGB94 CT501</text></g>
<g transform="translate(280.5,313)"><use href="#ov"/><text x="16.5" y="4.6">PP</text><text x="16.5" y="10.3">19PGB80 CP402</text></g>
<g transform="translate(287,331)"><use href="#ov"/><text x="16.5" y="4.6">TI</text><text x="16.5" y="10.3">19PGB80 CT502</text></g>
<g transform="translate(386.5,132)"><use href="#ov"/><text x="16.5" y="4.6">PP</text><text x="16.5" y="10.3">19PGB73 CP401</text></g>
<g transform="translate(386.5,155.6)"><use href="#ovd"/><text x="16.5" y="4.6">TI</text><text x="16.5" y="10.6">19PGB73 CT001</text></g>
<g transform="translate(377,281)"><use href="#ov"/><text x="16.5" y="4.6">TI</text><text x="16.5" y="10.3">19PGB75 CT501</text></g>
<g transform="translate(476,281.5)"><use href="#ov"/><text x="16.5" y="4.6">TI</text><text x="16.5" y="10.3">19PGB76 CT501</text></g>
<g transform="translate(505,195.5)"><use href="#ov"/><text x="16.5" y="4.6">PP</text><text x="16.5" y="10.3">19PGB41 CP401</text></g>
<g transform="translate(515,217.5)"><use href="#ovd"/><text x="16.5" y="4.6">TI</text><text x="16.5" y="10.6">19PGB41 CT001</text></g>
<g transform="translate(671,229.6)"><use href="#ov"/><text x="16.5" y="4.6">PP</text><text x="16.5" y="10.3">19PGB38 CP401</text></g>
<g transform="translate(674,252)"><use href="#ov"/><text x="16.5" y="4.6">TI</text><text x="16.5" y="10.3">19PGB38 CT501</text></g>
<g transform="translate(674,271)"><use href="#ovd"/><text x="16.5" y="4.6">TI</text><text x="16.5" y="10.6">19PGB38 CT001</text></g>
<g transform="translate(895,144.5)"><use href="#ov"/><text x="16.5" y="4.6">PP</text><text x="16.5" y="10.3">19PGB10 CP401</text></g>
<g transform="translate(895,162.5)"><use href="#ov"/><text x="16.5" y="4.6">TI</text><text x="16.5" y="10.3">19PGB10 CT501</text></g>
<g transform="translate(895,182.5)"><use href="#ovd"/><text x="16.5" y="4.6">TI</text><text x="16.5" y="10.6">19PGB10 CT001</text></g>
<g transform="translate(785.5,262)"><use href="#ov"/><text x="16.5" y="4.6">TI</text><text x="16.5" y="10.3">19PGB42 CT501</text></g>
<g transform="translate(858,262)"><use href="#ov"/><text x="16.5" y="4.6">TI</text><text x="16.5" y="10.3">19PGB43 CT502</text></g>
<g transform="translate(918,263)"><use href="#ov"/><text x="16.5" y="4.6">TI</text><text x="16.5" y="10.3">19PGB44 CT503</text></g>
<g transform="translate(986.5,263)"><use href="#ov"/><text x="16.5" y="4.6">TI</text><text x="16.5" y="10.3">19PGB45 CT504</text></g>

<g transform="translate(132,604)"><use href="#ov"/><text x="16.5" y="4.6">PP</text><text x="16.5" y="10.3">19PGA95 CP401</text></g>
<g transform="translate(254.6,604)"><use href="#ov"/><text x="16.5" y="4.6">PP</text><text x="16.5" y="10.3">19PGA94 CP401</text></g>
<g transform="translate(277,674.6)"><use href="#ov"/><text x="16.5" y="4.6">PP</text><text x="16.5" y="10.3">19PGA80 CP402</text></g>
<g transform="translate(289,693.5)"><use href="#ov"/><text x="16.5" y="4.6">TI</text><text x="16.5" y="10.3">19PGA80 CT502</text></g>
<g transform="translate(365,698.5)"><use href="#ov"/><text x="16.5" y="4.6">PP</text><text x="16.5" y="10.3">19PGA75 CP401</text></g>
<g transform="translate(491.5,698.5)"><use href="#ov"/><text x="16.5" y="4.6">PP</text><text x="16.5" y="10.3">19PGA76 CP402</text></g>
<g transform="translate(235,771)"><use href="#ov"/><text x="16.5" y="4.6">TI</text><text x="16.5" y="10.3">20PGA90 CT501</text></g>
<g transform="translate(391,824)"><use href="#ov"/><text x="16.5" y="4.6">TI</text><text x="16.5" y="10.3">19PGA70 CT502</text></g>
<g transform="translate(507,796.5)"><use href="#ov"/><text x="16.5" y="4.6">PP</text><text x="16.5" y="10.3">19PGA41 CP401</text></g>
<g transform="translate(515,815)"><use href="#ov"/><text x="16.5" y="10.3">19PGA41 CT501</text></g>
<g transform="translate(665,701.5)"><use href="#ov"/><text x="16.5" y="4.6">PP</text><text x="16.5" y="10.3">19PGA38 CP401</text></g>
<g transform="translate(668.5,724.5)"><use href="#ov"/><text x="16.5" y="4.6">TI</text><text x="16.5" y="10.3">19PGA38 CT501</text></g>
<g transform="translate(781,716)"><use href="#ov"/><text x="16.5" y="4.6">PP</text><text x="16.5" y="10.3">19PGA42 CP401</text></g>
<g transform="translate(851,716)"><use href="#ov"/><text x="16.5" y="4.6">PP</text><text x="16.5" y="10.3">19PGA43 CP402</text></g>
<g transform="translate(910,716)"><use href="#ov"/><text x="16.5" y="4.6">PP</text><text x="16.5" y="10.3">19PGA44 CP403</text></g>
<g transform="translate(976,716)"><use href="#ov"/><text x="16.5" y="4.6">PP</text><text x="16.5" y="10.3">19PGA45 CP404</text></g>
<g transform="translate(965,891.5)"><use href="#ov"/><text x="16.5" y="4.6">TI</text><text x="16.5" y="10.3">19PGA10 CT502</text></g>
</g>
</svg>
</body></html>
